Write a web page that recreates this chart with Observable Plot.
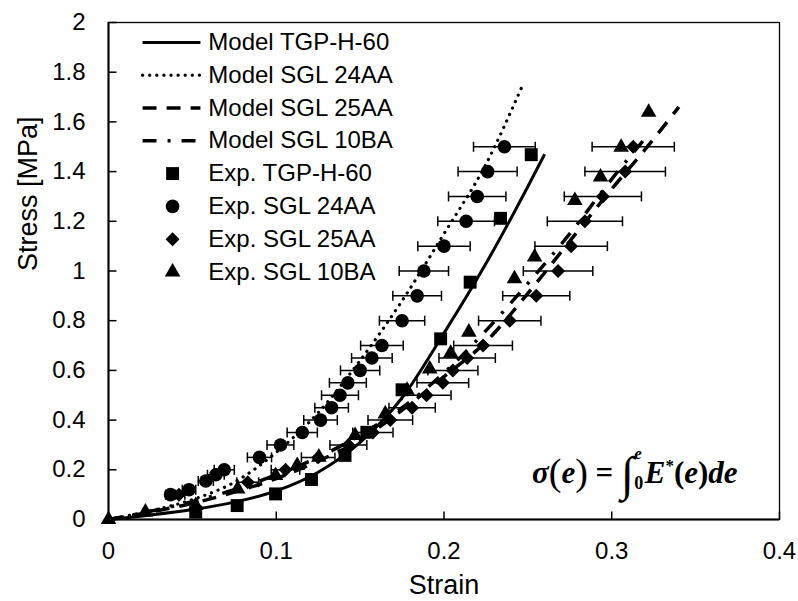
<!DOCTYPE html>
<html><head><meta charset="utf-8">
<script src="https://cdn.jsdelivr.net/npm/d3@7"></script>
<script src="https://cdn.jsdelivr.net/npm/@observablehq/plot@0.6"></script>
<style>body{margin:0;background:#fff;}</style>
</head><body><div id="chart"></div>
<script>
// ---- tick labels ----
const xTicks = [0, 0.1, 0.2, 0.3, 0.4];
const yTicks = [0, 0.2, 0.4, 0.6, 0.8, 1, 1.2, 1.4, 1.6, 1.8, 2];

// ---- model curves ----
const modelTGPStrain = [0, 0.025, 0.05, 0.075, 0.1, 0.125, 0.15, 0.175, 0.2, 0.225, 0.25, 0.26];
const modelTGPStress = [0, 0.018, 0.04, 0.07, 0.115, 0.19, 0.31, 0.49, 0.75, 1.03, 1.34, 1.47];
const model24Strain = [0, 0.025, 0.05, 0.075, 0.1, 0.125, 0.15, 0.175, 0.2, 0.225, 0.247];
const model24Stress = [0, 0.035, 0.08, 0.15, 0.27, 0.43, 0.64, 0.88, 1.15, 1.43, 1.75];
const model25Strain = [0, 0.025, 0.05, 0.075, 0.1, 0.125, 0.15, 0.175, 0.2, 0.225, 0.25, 0.275, 0.3, 0.32, 0.34];
const model25Stress = [0, 0.03, 0.065, 0.11, 0.165, 0.235, 0.32, 0.44, 0.575, 0.715, 0.91, 1.12, 1.33, 1.49, 1.66];
const model10Strain = [0, 0.025, 0.05, 0.075, 0.1, 0.125, 0.15, 0.175, 0.2, 0.225, 0.25, 0.275, 0.3, 0.322];
const model10Stress = [0, 0.033, 0.072, 0.12, 0.18, 0.25, 0.34, 0.45, 0.59, 0.76, 0.95, 1.15, 1.37, 1.55];

// ---- experiments ----
const expTGPStrain = [0.052, 0.0767, 0.0996, 0.121, 0.141, 0.154, 0.175, 0.198, 0.2156, 0.2337, 0.252];
const expTGPStress = [0.03, 0.056, 0.103, 0.161, 0.258, 0.351, 0.522, 0.727, 0.955, 1.212, 1.468];

const exp24Strain = [0.037, 0.048, 0.058, 0.064, 0.069, 0.090, 0.1025, 0.1155, 0.1264, 0.133, 0.138, 0.1427, 0.150, 0.157, 0.163, 0.175, 0.184, 0.188, 0.200, 0.2132, 0.2198, 0.226, 0.236];
const exp24Stress = [0.10, 0.12, 0.155, 0.18, 0.20, 0.25, 0.30, 0.35, 0.40, 0.45, 0.50, 0.55, 0.60, 0.65, 0.70, 0.80, 0.90, 1.00, 1.10, 1.20, 1.30, 1.40, 1.50];
const exp24Err = [0.003, 0.004, 0.0045, 0.005, 0.006, 0.0072, 0.008, 0.009, 0.010, 0.010, 0.011, 0.011, 0.0117, 0.0121, 0.0127, 0.0135, 0.0145, 0.0147, 0.0156, 0.0169, 0.0171, 0.0176, 0.0184];

const exp25Strain = [0.042, 0.083, 0.1055, 0.125, 0.143, 0.1576, 0.168, 0.181, 0.1896, 0.1993, 0.2053, 0.2138, 0.2233, 0.2392, 0.255, 0.268, 0.2758, 0.284, 0.2947, 0.308, 0.3128];
const exp25Stress = [0.10, 0.15, 0.20, 0.25, 0.30, 0.35, 0.40, 0.45, 0.50, 0.55, 0.60, 0.65, 0.70, 0.80, 0.90, 1.00, 1.10, 1.20, 1.30, 1.40, 1.50];
const exp25Err = [0.0035, 0.0065, 0.0085, 0.010, 0.011, 0.012, 0.0133, 0.0138, 0.0146, 0.0154, 0.0149, 0.0168, 0.0175, 0.0186, 0.020, 0.0207, 0.0216, 0.0224, 0.023, 0.024, 0.0245];

const exp10Strain = [0, 0.022, 0.052, 0.077, 0.0996, 0.1125, 0.1254, 0.147, 0.165, 0.178, 0.1915, 0.204, 0.2148, 0.242, 0.254, 0.278, 0.2933, 0.3056, 0.322];
const exp10Stress = [0, 0.03, 0.056, 0.123, 0.177, 0.217, 0.251, 0.338, 0.425, 0.52, 0.606, 0.669, 0.754, 0.969, 1.056, 1.284, 1.378, 1.498, 1.639];

// ---- legend ----
const legendLabels = ["Model TGP-H-60", "Model SGL 24AA", "Model SGL 25AA", "Model SGL 10BA",
                      "Exp. TGP-H-60", "Exp. SGL 24AA", "Exp. SGL 25AA", "Exp. SGL 10BA"];

// ---- styles ----
const lineStyles = [
  {strokeWidth: 3, strokeDasharray: null, strokeLinecap: "butt"},
  {strokeWidth: 3.2, strokeDasharray: "0.1 7", strokeLinecap: "round"},
  {strokeWidth: 3.5, strokeDasharray: "14 10", strokeLinecap: "butt"},
  {strokeWidth: 3.5, strokeDasharray: "14 11 3 11", strokeLinecap: "butt"}
];
const markerStyles = [
  {symbol: "square", r: 7.3},
  {symbol: "circle", r: 6.8},
  {symbol: "diamond2", r: 6.3},
  {symbol: "triangle", r: 5.8}
];

const pts = (xs, ys, err) => xs.map((x, i) => ({x, y: ys[i], e: err ? err[i] : 0}));
const models = [pts(modelTGPStrain, modelTGPStress), pts(model24Strain, model24Stress),
                pts(model25Strain, model25Stress), pts(model10Strain, model10Stress)];
const exps = [pts(expTGPStrain, expTGPStress), pts(exp24Strain, exp24Stress, exp24Err),
              pts(exp25Strain, exp25Stress, exp25Err), pts(exp10Strain, exp10Stress)];

// custom symbols
const vBar = {draw(ctx, size) { const h = Math.sqrt(size / Math.PI); ctx.moveTo(0, -h); ctx.lineTo(0, h); }};
const hTickIn = {draw(ctx, size) { const l = Math.sqrt(size / Math.PI); ctx.moveTo(0, 0); ctx.lineTo(l, 0); }};
const vTickIn = {draw(ctx, size) { const l = Math.sqrt(size / Math.PI); ctx.moveTo(0, 0); ctx.lineTo(0, -l); }};

const fmt = d => `${+d.toFixed(2)}`;

const marks = [];
// model lines
models.forEach((m, i) => marks.push(Plot.line(m, {x: "x", y: "y", stroke: "black", curve: "monotone-x", ...lineStyles[i]})));
// error bars
[exps[1], exps[2]].forEach(s => {
  marks.push(Plot.ruleY(s, {y: "y", x1: d => d.x - d.e, x2: d => d.x + d.e, stroke: "black", strokeWidth: 1.5}));
  marks.push(Plot.dot(s, {x: d => d.x - d.e, y: "y", symbol: vBar, r: 5, stroke: "black", strokeWidth: 1.5, fill: "none"}));
  marks.push(Plot.dot(s, {x: d => d.x + d.e, y: "y", symbol: vBar, r: 5, stroke: "black", strokeWidth: 1.5, fill: "none"}));
});
// markers
exps.forEach((s, i) => marks.push(Plot.dot(s, {x: "x", y: "y", fill: "black", stroke: "none", ...markerStyles[i]})));

// legend (data-space layout)
const legX0 = 0.0203, legX1 = 0.0548, legXm = 0.0382, legXt = 0.0595, legTop = 1.92, legStep = 0.132;
legendLabels.forEach((lab, i) => {
  const yy = legTop - i * legStep;
  if (i < 4) {
    marks.push(Plot.line([[legX0, yy], [legX1, yy]], {x: d => d[0], y: d => d[1], stroke: "black", ...lineStyles[i]}));
  } else {
    marks.push(Plot.dot([[legXm, yy]], {x: d => d[0], y: d => d[1], fill: "black", stroke: "none", ...markerStyles[i - 4]}));
  }
  marks.push(Plot.text([lab], {x: legXt, y: yy, text: d => d, textAnchor: "start", lineAnchor: "middle", fontSize: 24, fill: "black"}));
});

// frame, axis lines, inward ticks
marks.push(Plot.frame({stroke: "black", strokeWidth: 1.3}));
marks.push(Plot.ruleX([0], {stroke: "black", strokeWidth: 2}));
marks.push(Plot.ruleY([0], {stroke: "black", strokeWidth: 2}));
marks.push(Plot.dot(yTicks, {x: 0, y: d => d, symbol: hTickIn, r: 8, stroke: "black", strokeWidth: 1.5, fill: "none"}));
marks.push(Plot.dot(xTicks, {x: d => d, y: 0, symbol: vTickIn, r: 8, stroke: "black", strokeWidth: 1.5, fill: "none"}));

// axes
marks.push(Plot.axisX(xTicks, {tickSize: 0, tickPadding: 22, fontSize: 24, tickFormat: fmt, label: null, fill: "black"}));
marks.push(Plot.axisY(yTicks, {tickSize: 0, tickPadding: 23, fontSize: 24, tickFormat: fmt, label: null, fill: "black"}));
marks.push(Plot.text(["Strain"], {frameAnchor: "bottom", dy: 66, text: d => d, fontSize: 27, lineAnchor: "middle", fill: "black"}));
marks.push(Plot.text(["Stress [MPa]"], {frameAnchor: "left", dx: -80, rotate: -90, text: d => d, fontSize: 27, lineAnchor: "middle", fill: "black"}));

const plot = Plot.plot({
  width: 798, height: 601,
  marginLeft: 108, marginRight: 19, marginTop: 22, marginBottom: 82,
  x: {domain: [0, 0.4], axis: null},
  y: {domain: [0, 2], axis: null},
  style: {fontFamily: "'Liberation Sans', Arial, sans-serif", background: "white", color: "black", overflow: "visible"},
  marks
});
document.getElementById("chart").appendChild(plot);

// formula annotation, placed through the plot's own scales
const sx = plot.scale("x"), sy = plot.scale("y");
const f = d3.select(plot).append("text")
  .attr("x", sx.apply(0.2528)).attr("y", sy.apply(0.145))
  .attr("text-anchor", "start")
  .attr("font-family", "'Liberation Serif', 'Times New Roman', serif")
  .attr("font-weight", "bold").attr("font-size", 31).attr("fill", "black");
f.append("tspan").attr("font-style", "italic").text("σ");
f.append("tspan").attr("font-size", 38).attr("font-weight", "normal").attr("dy", 2).text("(");
f.append("tspan").attr("font-style", "italic").attr("dy", -2).text("e");
f.append("tspan").attr("font-size", 38).attr("font-weight", "normal").attr("dy", 2).text(")");
f.append("tspan").attr("dy", -2).text(" = ");
f.append("tspan").attr("font-size", 48).attr("font-weight", "normal").attr("dy", 7).text("∫");
f.append("tspan").attr("font-size", 18).attr("dy", -1).text("0");
f.append("tspan").attr("font-size", 17).attr("font-style", "italic").attr("dx", -9).attr("dy", -30).text("e");
f.append("tspan").attr("font-style", "italic").attr("dx", 3).attr("dy", 24).text("E");
f.append("tspan").attr("font-size", 17).attr("dy", -12).text("*");
f.append("tspan").attr("dy", 12).text("(");
f.append("tspan").attr("font-style", "italic").text("e");
f.append("tspan").text(")");
f.append("tspan").attr("font-style", "italic").text("de");
</script>
</body></html>
